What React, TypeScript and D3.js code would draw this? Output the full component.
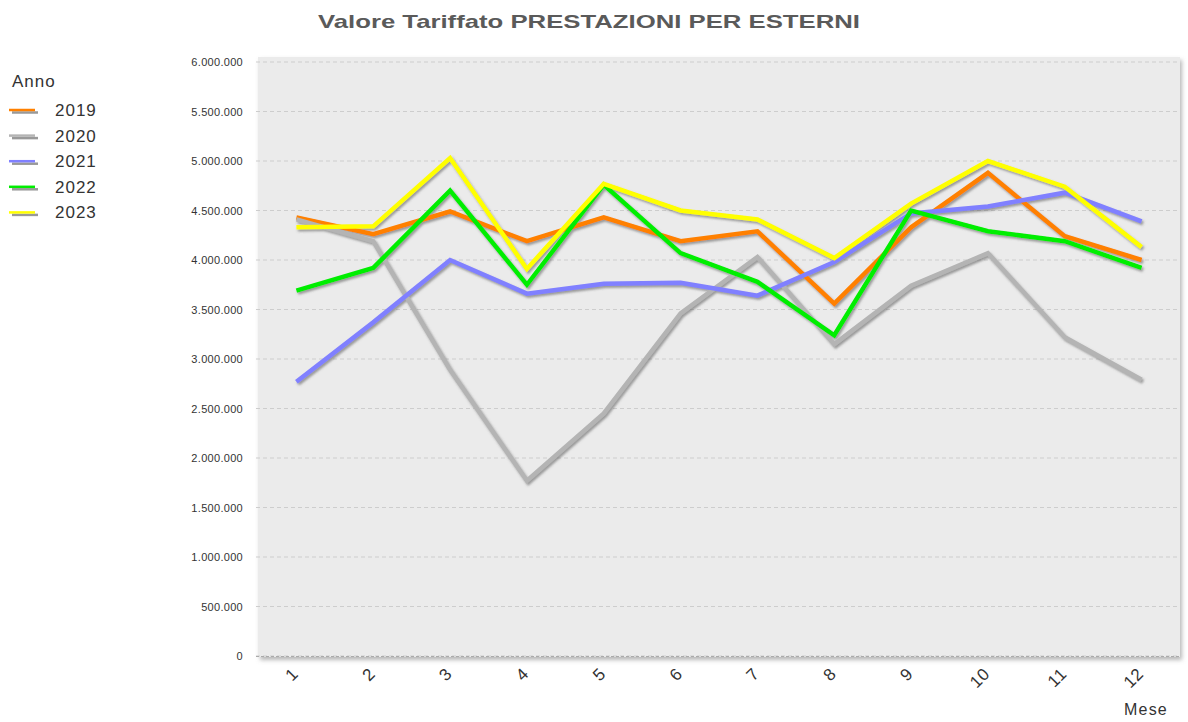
import React from "react";
import * as d3 from "d3";

const months = ["1", "2", "3", "4", "5", "6", "7", "8", "9", "10", "11", "12"];
const years = ["2019", "2020", "2021", "2022", "2023"];
const v2019 = [4.43, 4.26, 4.49, 4.19, 4.43, 4.19, 4.29, 3.56, 4.33, 4.88, 4.24, 4.0];
const v2020 = [4.41, 4.19, 2.89, 1.77, 2.45, 3.46, 4.03, 3.15, 3.74, 4.07, 3.22, 2.79];
const v2021 = [2.77, 3.37, 4.0, 3.66, 3.76, 3.77, 3.64, 3.98, 4.47, 4.54, 4.68, 4.39];
const v2022 = [3.69, 3.92, 4.7, 3.75, 4.76, 4.07, 3.78, 3.24, 4.5, 4.29, 4.19, 3.92];
const v2023 = [4.33, 4.34, 5.03, 3.91, 4.77, 4.5, 4.41, 4.02, 4.57, 5.0, 4.74, 4.13];
const colors = ["#ff8000", "#b4b4b4", "#8080ff", "#00ee00", "#ffff00"];
const yTicks = [0, 500000, 1000000, 1500000, 2000000, 2500000, 3000000, 3500000, 4000000, 4500000, 5000000, 5500000, 6000000];

const seriesValues = [v2019, v2020, v2021, v2022, v2023];

const fmt = (v: number) => (v === 0 ? "0" : d3.format(",")(v).replace(/,/g, "."));

export default function App() {
  const W = 1188, H = 722;
  const panel = { left: 258, right: 1180, top: 57, bottom: 657 };
  const x = d3.scalePoint<string>().domain(months).range([panel.left, panel.right]).padding(0.5);
  const y = d3.scaleLinear().domain([0, 6000000]).range([656, 62]);
  const line = d3
    .line<number>()
    .x((_, i) => x(months[i]) as number)
    .y((d) => y(d * 1e6));

  const font = "Arial, 'Liberation Sans', sans-serif";

  return (
    <svg width={W} height={H} style={{ position: "absolute", left: 0, top: 0, background: "#fff" }} fontFamily={font}>
      <defs>
        <filter id="lshadow" x="-5%" y="-5%" width="110%" height="115%">
          <feDropShadow dx="1.5" dy="2" stdDeviation="0.8" floodColor="#555" floodOpacity="0.55" />
        </filter>
        <filter id="pshadow" x="-2%" y="-2%" width="104%" height="104%">
          <feDropShadow dx="2" dy="3" stdDeviation="2" floodColor="#888" floodOpacity="0.6" />
        </filter>
      </defs>
      <text x={318} y={28} fontSize={19} fontWeight="bold" fill="#5a5a5a" textLength={542} lengthAdjust="spacingAndGlyphs">
        Valore  Tariffato PRESTAZIONI PER ESTERNI
      </text>
      <rect
        x={panel.left}
        y={panel.top}
        width={panel.right - panel.left}
        height={panel.bottom - panel.top}
        fill="#ebebeb"
        filter="url(#pshadow)"
      />
      {yTicks.map((t) => (
        <g key={t}>
          <line x1={256} x2={panel.right} y1={y(t)} y2={y(t)} stroke="#cdcdcd" strokeDasharray="4,3" strokeWidth={1} />
          <text x={243} y={y(t) + 4} fontSize={11} textAnchor="end" fill="#333" letterSpacing={0.3}>
            {fmt(t)}
          </text>
        </g>
      ))}
      <line x1={256} x2={panel.right} y1={656.5} y2={656.5} stroke="#aaa" strokeDasharray="3,2" />
      <g filter="url(#lshadow)">
        {seriesValues.map((vals, si) => (
          <path key={si} d={line(vals) || ""} fill="none" stroke={colors[si]} strokeWidth={4.5} strokeLinejoin="miter" />
        ))}
      </g>
      {months.map((m) => {
        const px = x(m) as number;
        return (
          <text
            key={m}
            transform={`translate(${px + 3},${675}) rotate(-45)`}
            textAnchor="end"
            fontSize={17}
            fill="#333"
            letterSpacing={0.5}
          >
            {m}
          </text>
        );
      })}
      <text x={1124} y={715} fontSize={16} fill="#333" letterSpacing={1.2}>
        Mese
      </text>
      <text x={12} y={87} fontSize={17} fill="#333" letterSpacing={1}>
        Anno
      </text>
      {years.map((yr, i) => {
        const cy = 110 + i * 25.6;
        return (
          <g key={yr}>
            <line x1={12} x2={38} y1={cy + 2.5} y2={cy + 2.5} stroke="#999" strokeWidth={2.5} />
            <line x1={9} x2={35} y1={cy} y2={cy} stroke={colors[i]} strokeWidth={2.5} />
            <text x={55} y={cy + 6} fontSize={17} fill="#333" letterSpacing={1}>
              {yr}
            </text>
          </g>
        );
      })}
    </svg>
  );
}
